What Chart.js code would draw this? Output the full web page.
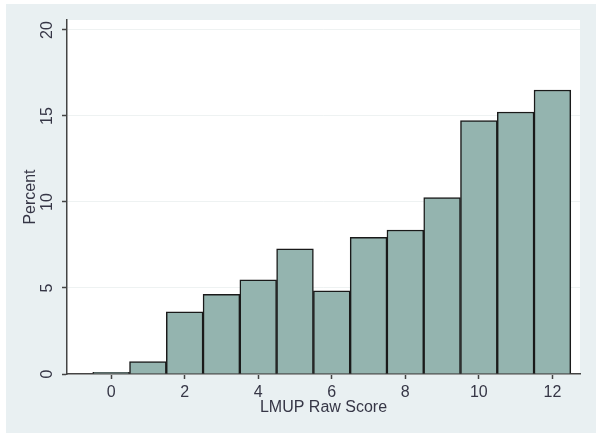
<!DOCTYPE html>
<html>
<head>
<meta charset="utf-8">
<script src="https://cdn.jsdelivr.net/npm/chart.js@4/dist/chart.umd.min.js"></script>
<style>
  html, body { margin: 0; padding: 0; background: #fff; }
  #wrap { width: 601px; height: 438px; }
</style>
</head>
<body>
<div id="wrap"><canvas id="hist" width="601" height="438"></canvas></div>
<script>
// LMUP raw score histogram (percent per score)
const scores = [0, 1, 2, 3, 4, 5, 6, 7, 8, 9, 10, 11, 12];
const percents = [0.1, 0.72, 3.62, 4.63, 5.47, 7.27, 4.83, 7.95, 8.37, 10.25, 14.73, 15.23, 16.51];
const xTicks = [0, 2, 4, 6, 8, 10, 12];
const yTicks = [0, 5, 10, 15, 20];

const FONT = "'Liberation Sans', Arial, sans-serif";
const TEXT = "#363646";

// background panel + white plot area
const backdrop = {
  id: "backdrop",
  beforeDraw(chart) {
    const { ctx, chartArea: a } = chart;
    ctx.save();
    ctx.fillStyle = "#fff";
    ctx.fillRect(0, 0, chart.width, chart.height);
    ctx.fillStyle = "#e9f0f2";
    ctx.fillRect(6, 4, 590, 429);
    ctx.fillStyle = "#fff";
    ctx.fillRect(a.left, a.top, a.right - a.left, a.bottom - a.top);
    ctx.restore();
  },
};

// vertical y tick labels (Stata style)
const yLabels = {
  id: "yLabels",
  afterDraw(chart) {
    const { ctx } = chart;
    const y = chart.scales.y;
    ctx.save();
    ctx.fillStyle = TEXT;
    ctx.font = "16px " + FONT;
    ctx.textAlign = "center";
    ctx.textBaseline = "middle";
    yTicks.forEach((v) => {
      ctx.save();
      ctx.translate(48, y.getPixelForValue(v));
      ctx.rotate(-Math.PI / 2);
      ctx.fillText(String(v), 0, 0);
      ctx.restore();
    });
    ctx.restore();
  },
};

new Chart(document.getElementById("hist"), {
  type: "bar",
  data: {
    datasets: [
      {
        data: scores.map((s, i) => ({ x: s, y: percents[i] })),
        backgroundColor: "#94b4af",
        borderColor: "#1a1a1a",
        borderWidth: 1.5,
        barPercentage: 1,
        categoryPercentage: 1,
      },
    ],
  },
  options: {
    responsive: false,
    animation: false,
    layout: { padding: { left: 0, top: 20, right: 21, bottom: 0 } },
    plugins: { legend: { display: false }, tooltip: { enabled: false } },
    scales: {
      x: {
        type: "linear",
        offset: false,
        min: -1.2,
        max: 12.75,
        afterBuildTicks(scale) {
          scale.ticks = xTicks.map((v) => ({ value: v }));
        },
        afterFit(scale) {
          scale.height = 64;
        },
        grid: { offset: false, drawOnChartArea: false, tickLength: 5, tickColor: "#444", tickWidth: 1.5 },
        border: { color: "#444", width: 1.5 },
        ticks: { color: TEXT, font: { family: FONT, size: 16 }, padding: 4, maxRotation: 0 },
        title: {
          display: true,
          text: "LMUP Raw Score",
          color: TEXT,
          font: { family: FONT, size: 16 },
          padding: { top: 0, bottom: 21 },
        },
      },
      y: {
        min: 0,
        max: 20.58,
        afterBuildTicks(scale) {
          scale.ticks = yTicks.map((v) => ({ value: v }));
        },
        afterFit(scale) {
          scale.width = 67;
        },
        grid: { color: "#eef2f2", lineWidth: 1, tickLength: 5, tickColor: "#444", tickWidth: 1.5 },
        border: { color: "#444", width: 1.5 },
        ticks: { display: false },
        title: {
          display: true,
          text: "Percent",
          color: TEXT,
          font: { family: FONT, size: 16 },
          padding: { top: 21, bottom: 0 },
        },
      },
    },
  },
  plugins: [backdrop, yLabels],
});
</script>
</body>
</html>
